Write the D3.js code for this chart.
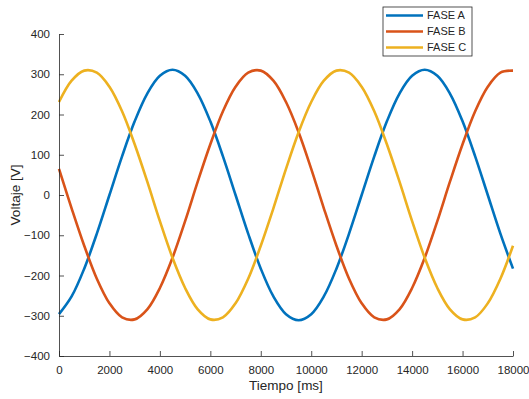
<!DOCTYPE html>
<html>
<head>
<meta charset="utf-8">
<script src="https://cdn.jsdelivr.net/npm/d3@7"></script>
<style>
  body { margin: 0; background: #fff; }
  text { font-family: "Liberation Sans", Arial, sans-serif; }
</style>
</head>
<body>
<div id="chart"></div>
<script>
// datos (cada 500 ms)
const tiempo = d3.range(0, 18001, 500);
const faseA = [-296, -252, -183, -96, 0, 96, 183, 252, 296, 311, 296, 252, 183, 96, 0, -96, -183, -252, -296, -311,
  -296, -252, -183, -96, 0, 96, 183, 252, 296, 311, 296, 252, 183, 96, 0, -96, -183];
const faseB = [65, -33, -126, -208, -269, -304, -309, -284, -231, -156, -65, 33, 126, 208, 269, 304, 309, 284, 231, 156,
  65, -33, -126, -208, -269, -304, -309, -284, -231, -156, -65, 33, 126, 208, 269, 304, 309];
const faseC = [231, 284, 309, 304, 269, 208, 126, 33, -65, -156, -231, -284, -309, -304, -269, -208, -126, -33, 65, 156,
  231, 284, 309, 304, 269, 208, 126, 33, -65, -156, -231, -284, -309, -304, -269, -208, -126];
const nombres = ['FASE A', 'FASE B', 'FASE C'];
const colores = ['#0072BD', '#D95319', '#EDB120'];
const xTicks = d3.range(0, 18001, 2000);
const yTicks = d3.range(-400, 401, 100);

// svg領域
const svgWidth = 529;
const svgHeight = 399;
const margin = { top: 34, right: 16, bottom: 43, left: 59 };
const width = svgWidth - margin.left - margin.right;
const height = svgHeight - margin.top - margin.bottom;

const svg = d3.select('#chart')
  .append('svg')
  .attr('width', svgWidth)
  .attr('height', svgHeight);

const graph = svg.append('g')
  .attr('transform', `translate(${margin.left},${margin.top})`);

const x = d3.scaleLinear().domain([0, 18000]).range([0, width]);
const y = d3.scaleLinear().domain([-400, 400]).range([height, 0]);

// series
const series = [faseA, faseB, faseC].map((vals, i) => ({
  name: nombres[i],
  color: colores[i],
  values: vals.map((v, j) => ({ t: tiempo[j], v }))
}));

const line = d3.line()
  .x(d => x(d.t))
  .y(d => y(d.v))
  .curve(d3.curveCatmullRom.alpha(0.5));

graph.selectAll('.serie')
  .data(series)
  .enter()
  .append('path')
  .attr('class', 'serie')
  .attr('fill', 'none')
  .attr('stroke', d => d.color)
  .attr('stroke-width', 2.6)
  .attr('d', d => line(d.values));

// ejes
const axisColor = '#262626';
const xAxis = graph.append('g')
  .attr('transform', `translate(0,${height})`)
  .call(d3.axisBottom(x).tickValues(xTicks).tickSizeInner(-5).tickSizeOuter(0).tickPadding(10).tickFormat(d3.format('d')));
const yAxis = graph.append('g')
  .call(d3.axisLeft(y).tickValues(yTicks).tickSizeInner(-5).tickSizeOuter(0).tickPadding(9).tickFormat(d3.format('d')));

[xAxis, yAxis].forEach(a => {
  a.select('.domain').attr('stroke', axisColor).attr('stroke-width', 0.8);
  a.selectAll('.tick line').attr('stroke', axisColor).attr('stroke-width', 0.8);
  a.selectAll('.tick text').attr('fill', axisColor).style('font-size', '11.5px')
    .style('font-family', '"Liberation Sans", Arial, sans-serif');
});

// etiquetas
svg.append('text')
  .attr('x', margin.left + width / 2)
  .attr('y', 390)
  .attr('text-anchor', 'middle')
  .attr('fill', axisColor)
  .style('font-size', '13.5px')
  .text('Tiempo [ms]');

svg.append('text')
  .attr('transform', `translate(20,${margin.top + height / 2}) rotate(-90)`)
  .attr('text-anchor', 'middle')
  .attr('fill', axisColor)
  .style('font-size', '13.5px')
  .text('Voltaje [V]');

// leyenda
const legend = svg.append('g').attr('transform', 'translate(383,7)');
legend.append('rect')
  .attr('width', 89)
  .attr('height', 49)
  .attr('fill', '#fff')
  .attr('stroke', axisColor)
  .attr('stroke-width', 0.8);

const item = legend.selectAll('.item')
  .data(series)
  .enter()
  .append('g')
  .attr('class', 'item')
  .attr('transform', (d, i) => `translate(0,${8.5 + i * 16})`);

item.append('line')
  .attr('x1', 3).attr('x2', 40)
  .attr('stroke', d => d.color)
  .attr('stroke-width', 2.6);

item.append('text')
  .attr('x', 44)
  .attr('dy', '0.35em')
  .attr('fill', axisColor)
  .style('font-size', '11px')
  .text(d => d.name);
</script>
</body>
</html>
